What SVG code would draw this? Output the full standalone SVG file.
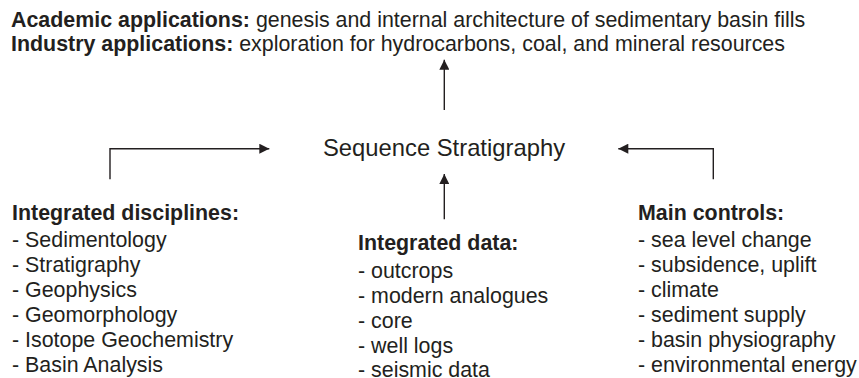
<svg xmlns="http://www.w3.org/2000/svg" width="859" height="378" viewBox="0 0 859 378">
<style>
  text { font-family: "Liberation Sans", Arial, Helvetica, sans-serif; font-size: 21.4px; fill: #231f20; }
  .b { font-weight: bold; }
  .title { font-size: 23.8px; }
  .conn { fill: none; stroke: #231f20; stroke-width: 1.4; }
</style>
<defs>
  <marker id="ah" viewBox="0 0 10 10" refX="10" refY="5" markerUnits="userSpaceOnUse" markerWidth="10.5" markerHeight="10" orient="auto">
    <path d="M0,0 L10,5 L0,10 z" fill="#231f20"/>
  </marker>
</defs>
<rect width="859" height="378" fill="#ffffff"/>

<g id="applications">
  <text x="11" y="27"><tspan class="b">Academic applications:</tspan> genesis and internal architecture of sedimentary basin fills</text>
  <text x="11" y="51"><tspan class="b">Industry applications:</tspan> exploration for hydrocarbons, coal, and mineral resources</text>
</g>

<g id="sequence-stratigraphy">
  <text class="title" x="444" y="156" text-anchor="middle">Sequence Stratigraphy</text>
</g>

<g id="integrated-disciplines">
  <text class="b" x="12" y="220">Integrated disciplines:</text>
  <text x="12" y="247">- Sedimentology</text>
  <text x="12" y="272">- Stratigraphy</text>
  <text x="12" y="297">- Geophysics</text>
  <text x="12" y="322">- Geomorphology</text>
  <text x="12" y="347">- Isotope Geochemistry</text>
  <text x="12" y="372">- Basin Analysis</text>
</g>

<g id="integrated-data">
  <text class="b" x="358" y="250">Integrated data:</text>
  <text x="358" y="278">- outcrops</text>
  <text x="358" y="303">- modern analogues</text>
  <text x="358" y="328">- core</text>
  <text x="358" y="353">- well logs</text>
  <text x="358" y="377">- seismic data</text>
</g>

<g id="main-controls">
  <text class="b" x="638" y="220">Main controls:</text>
  <text x="638" y="247">- sea level change</text>
  <text x="638" y="272">- subsidence, uplift</text>
  <text x="638" y="297">- climate</text>
  <text x="638" y="322">- sediment supply</text>
  <text x="638" y="347">- basin physiography</text>
  <text x="638" y="372">- environmental energy</text>
</g>

<g id="connectors">
  <path class="conn" d="M444.3,110 L444.3,59.7" marker-end="url(#ah)"/>
  <path class="conn" d="M444.3,219.3 L444.3,174" marker-end="url(#ah)"/>
  <path class="conn" d="M110,179.3 L110,148.7 L269.3,148.7" marker-end="url(#ah)"/>
  <path class="conn" d="M713.3,179.3 L713.3,148.7 L618.3,148.7" marker-end="url(#ah)"/>
</g>
</svg>
